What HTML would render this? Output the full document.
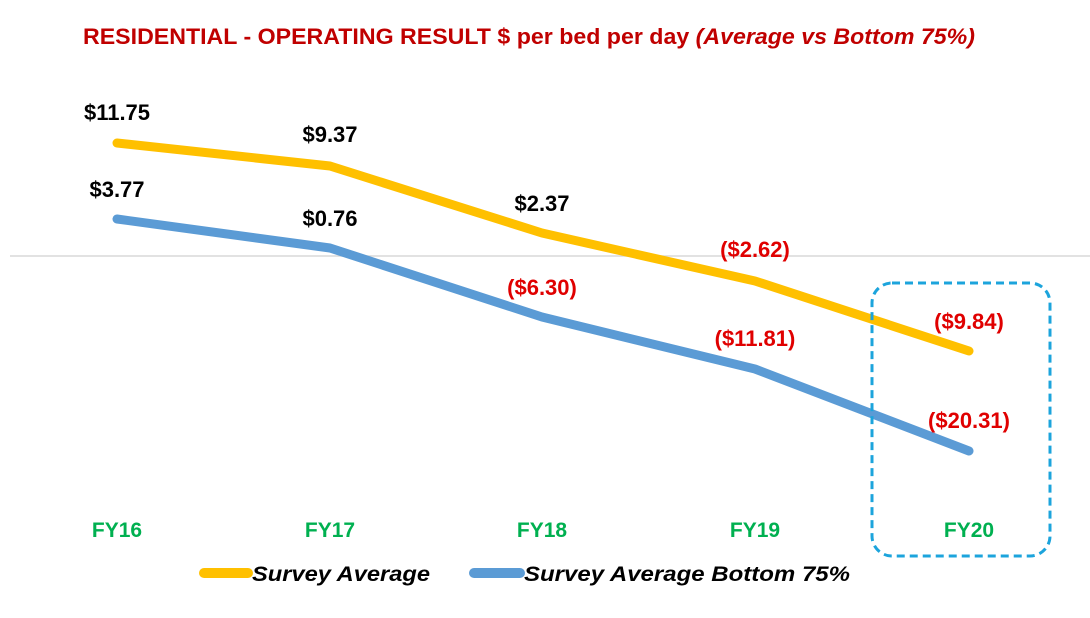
<!DOCTYPE html>
<html><head><meta charset="utf-8"><style>
html,body{margin:0;padding:0;background:#fff;}
svg{display:block;font-family:"Liberation Sans",sans-serif;font-weight:bold;}
</style></head><body>
<svg width="1090" height="618" viewBox="0 0 1090 618" xmlns="http://www.w3.org/2000/svg">
<text x="83" y="44" font-size="22" fill="#C00000" textLength="892" lengthAdjust="spacingAndGlyphs">RESIDENTIAL - OPERATING RESULT $ per bed per day <tspan font-style="italic">(Average vs Bottom 75%)</tspan></text>
<line x1="10" y1="256" x2="1090" y2="256" stroke="#d9d9d9" stroke-width="1.5"/>
<polyline points="117,143 330,166 542,233 755,281 969,351" fill="none" stroke="#FFC000" stroke-width="9" stroke-linejoin="round" stroke-linecap="round"/>
<polyline points="117,219 330,248 542,317 755,369 969,451" fill="none" stroke="#5B9BD5" stroke-width="9" stroke-linejoin="round" stroke-linecap="round"/>
<g font-size="22" text-anchor="middle">
<text x="117" y="120" fill="#000">$11.75</text>
<text x="330" y="142" fill="#000">$9.37</text>
<text x="117" y="197" fill="#000">$3.77</text>
<text x="330" y="226" fill="#000">$0.76</text>
<text x="542" y="211" fill="#000">$2.37</text>
<text x="542" y="295" fill="#E00000">($6.30)</text>
<text x="755" y="257" fill="#E00000">($2.62)</text>
<text x="755" y="346" fill="#E00000">($11.81)</text>
<text x="969" y="329" fill="#E00000">($9.84)</text>
<text x="969" y="428" fill="#E00000">($20.31)</text>
</g>
<g font-size="21" text-anchor="middle" fill="#00B050">
<text x="117" y="537">FY16</text>
<text x="330" y="537">FY17</text>
<text x="542" y="537">FY18</text>
<text x="755" y="537">FY19</text>
<text x="969" y="537">FY20</text>
</g>
<rect x="872" y="283" width="178" height="273" rx="20" ry="20" fill="none" stroke="#1CA4DC" stroke-width="3" stroke-dasharray="8,5"/>
<line x1="204" y1="573" x2="248" y2="573" stroke="#FFC000" stroke-width="10" stroke-linecap="round"/>
<text x="252" y="581" font-size="21" font-style="italic" fill="#000" textLength="178" lengthAdjust="spacingAndGlyphs">Survey Average</text>
<line x1="474" y1="573" x2="520" y2="573" stroke="#5B9BD5" stroke-width="10" stroke-linecap="round"/>
<text x="524" y="581" font-size="21" font-style="italic" fill="#000" textLength="326" lengthAdjust="spacingAndGlyphs">Survey Average Bottom 75%</text>
</svg>
</body></html>
